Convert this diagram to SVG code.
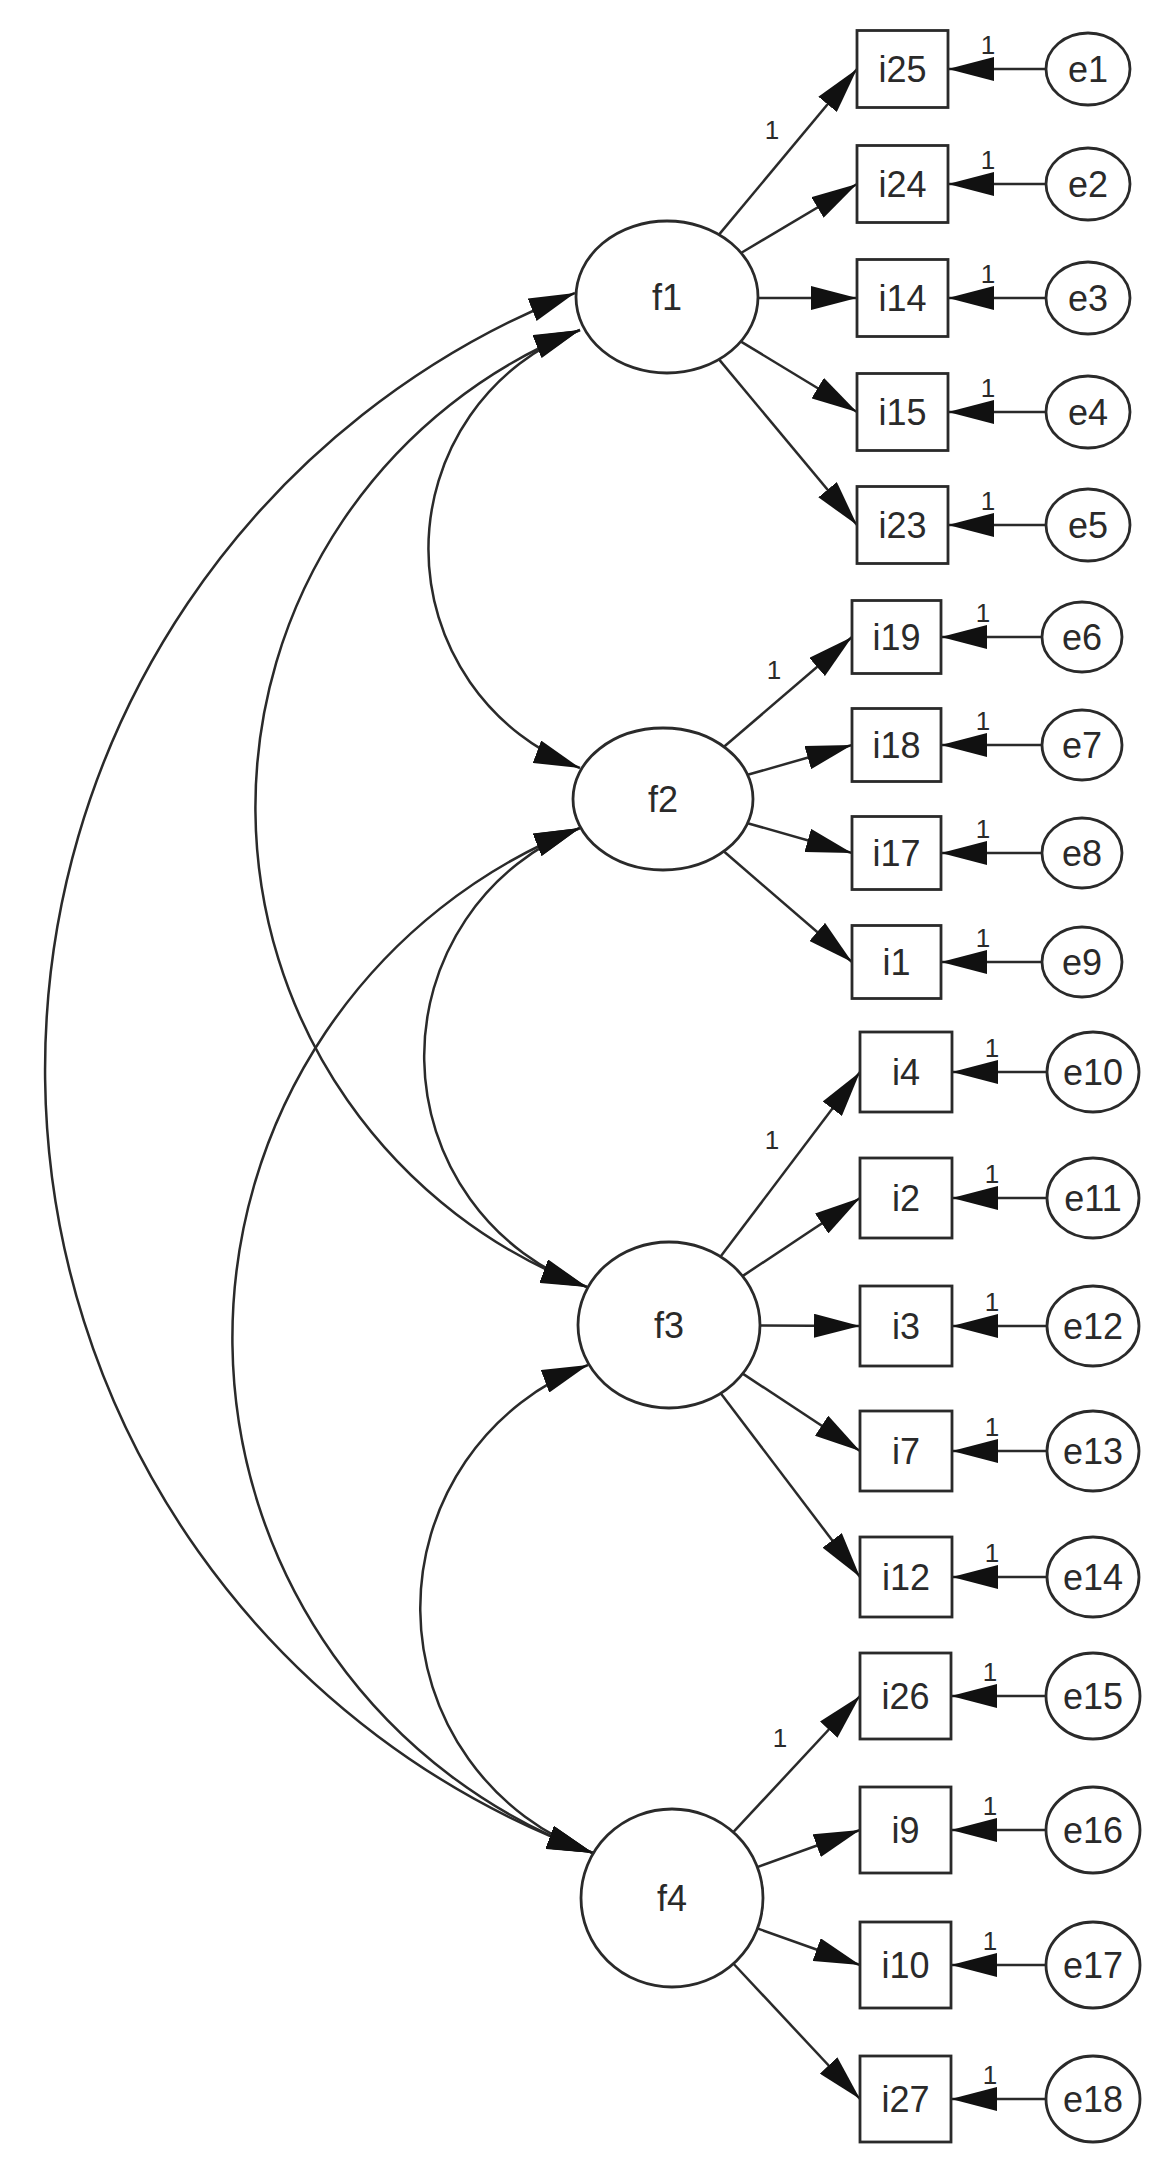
<svg xmlns="http://www.w3.org/2000/svg" width="1172" height="2177" viewBox="0 0 1172 2177">
<style>
.node{fill:#fff;stroke:#2a2a2a;stroke-width:2.8}
.lbl{font-family:'Liberation Sans',Arial,sans-serif;font-size:36px;fill:#2a2a2a;text-anchor:middle}
.one{font-family:'Liberation Sans',Arial,sans-serif;font-size:26px;fill:#2a2a2a;text-anchor:middle}
.edge{fill:none;stroke:#2a2a2a;stroke-width:2.5}
.ar{marker-end:url(#ah)}
.cov{fill:none;stroke:#2a2a2a;stroke-width:2.5;marker-start:url(#ah);marker-end:url(#ah)}
</style>
<defs>
<marker id="ah" markerUnits="userSpaceOnUse" markerWidth="46" markerHeight="24" refX="46" refY="12" orient="auto-start-reverse">
<path d="M0,0 L46,12 L0,24 z" fill="#111"/>
</marker>
</defs>
<rect width="1172" height="2177" fill="#fff"/>
<g id="connectors">
<path class="cov" d="M575,293 A834,834 0 0 0 593,1853"/>
<path class="cov" d="M580,330 A513,513 0 0 0 587,1287"/>
<path class="cov" d="M580,330 A234,234 0 0 0 580,768"/>
<path class="cov" d="M580,828 A245,245 0 0 0 587,1287"/>
<path class="cov" d="M580,828 A548,548 0 0 0 593,1853"/>
<path class="cov" d="M588,1365 A260,260 0 0 0 593,1853"/>
<line class="edge ar" x1="719" y1="234.6" x2="857" y2="69"/>
<line class="edge ar" x1="741" y1="253" x2="857" y2="184"/>
<line class="edge ar" x1="758" y1="298" x2="857" y2="298"/>
<line class="edge ar" x1="741" y1="341.6" x2="857" y2="412"/>
<line class="edge ar" x1="719" y1="359.4" x2="857" y2="525"/>
<line class="edge ar" x1="724" y1="746.8" x2="852" y2="637"/>
<line class="edge ar" x1="747.6" y1="774.8" x2="852" y2="745"/>
<line class="edge ar" x1="747.6" y1="823.2" x2="852" y2="853"/>
<line class="edge ar" x1="724" y1="851.5" x2="852" y2="962"/>
<line class="edge ar" x1="720.6" y1="1256.6" x2="860" y2="1072"/>
<line class="edge ar" x1="742.5" y1="1276.1" x2="860" y2="1198"/>
<line class="edge ar" x1="760" y1="1325.5" x2="860" y2="1326"/>
<line class="edge ar" x1="742.7" y1="1373.6" x2="860" y2="1451"/>
<line class="edge ar" x1="720.7" y1="1393.3" x2="860" y2="1577"/>
<line class="edge ar" x1="733.3" y1="1832.2" x2="860" y2="1696"/>
<line class="edge ar" x1="757.3" y1="1867.1" x2="860" y2="1830"/>
<line class="edge ar" x1="757.3" y1="1928.4" x2="860" y2="1965"/>
<line class="edge ar" x1="733.3" y1="1963.5" x2="860" y2="2099"/>
<line class="edge ar" x1="1046" y1="69" x2="948" y2="69"/>
<line class="edge ar" x1="1046" y1="184" x2="948" y2="184"/>
<line class="edge ar" x1="1046" y1="298" x2="948" y2="298"/>
<line class="edge ar" x1="1046" y1="412" x2="948" y2="412"/>
<line class="edge ar" x1="1046" y1="525" x2="948" y2="525"/>
<line class="edge ar" x1="1042" y1="637" x2="941" y2="637"/>
<line class="edge ar" x1="1042" y1="745" x2="941" y2="745"/>
<line class="edge ar" x1="1042" y1="853" x2="941" y2="853"/>
<line class="edge ar" x1="1042" y1="962" x2="941" y2="962"/>
<line class="edge ar" x1="1047" y1="1072" x2="952" y2="1072"/>
<line class="edge ar" x1="1047" y1="1198" x2="952" y2="1198"/>
<line class="edge ar" x1="1047" y1="1326" x2="952" y2="1326"/>
<line class="edge ar" x1="1047" y1="1451" x2="952" y2="1451"/>
<line class="edge ar" x1="1047" y1="1577" x2="952" y2="1577"/>
<line class="edge ar" x1="1046" y1="1696" x2="951" y2="1696"/>
<line class="edge ar" x1="1046" y1="1830" x2="951" y2="1830"/>
<line class="edge ar" x1="1046" y1="1965" x2="951" y2="1965"/>
<line class="edge ar" x1="1046" y1="2099" x2="951" y2="2099"/>
<text class="one" x="772" y="139">1</text>
<text class="one" x="774" y="679">1</text>
<text class="one" x="772" y="1149">1</text>
<text class="one" x="780" y="1747">1</text>
<text class="one" x="988" y="54">1</text>
<text class="one" x="988" y="169">1</text>
<text class="one" x="988" y="283">1</text>
<text class="one" x="988" y="397">1</text>
<text class="one" x="988" y="510">1</text>
<text class="one" x="983" y="622">1</text>
<text class="one" x="983" y="730">1</text>
<text class="one" x="983" y="838">1</text>
<text class="one" x="983" y="947">1</text>
<text class="one" x="992" y="1057">1</text>
<text class="one" x="992" y="1183">1</text>
<text class="one" x="992" y="1311">1</text>
<text class="one" x="992" y="1436">1</text>
<text class="one" x="992" y="1562">1</text>
<text class="one" x="990" y="1681">1</text>
<text class="one" x="990" y="1815">1</text>
<text class="one" x="990" y="1950">1</text>
<text class="one" x="990" y="2084">1</text>
</g>
<g id="f1"><ellipse class="node" cx="667" cy="297" rx="91" ry="76"/><text class="lbl" x="667" y="310">f1</text></g>
<g id="f2"><ellipse class="node" cx="663" cy="799" rx="90" ry="71"/><text class="lbl" x="663" y="812">f2</text></g>
<g id="f3"><ellipse class="node" cx="669" cy="1325" rx="91" ry="83"/><text class="lbl" x="669" y="1338">f3</text></g>
<g id="f4"><ellipse class="node" cx="672" cy="1898" rx="91" ry="89"/><text class="lbl" x="672" y="1911">f4</text></g>
<g id="i25"><rect class="node" x="857" y="30.5" width="91" height="77"/><text class="lbl" x="902.5" y="82">i25</text></g>
<g id="i24"><rect class="node" x="857" y="145.5" width="91" height="77"/><text class="lbl" x="902.5" y="197">i24</text></g>
<g id="i14"><rect class="node" x="857" y="259.5" width="91" height="77"/><text class="lbl" x="902.5" y="311">i14</text></g>
<g id="i15"><rect class="node" x="857" y="373.5" width="91" height="77"/><text class="lbl" x="902.5" y="425">i15</text></g>
<g id="i23"><rect class="node" x="857" y="486.5" width="91" height="77"/><text class="lbl" x="902.5" y="538">i23</text></g>
<g id="i19"><rect class="node" x="852" y="600.5" width="89" height="73"/><text class="lbl" x="896.5" y="650">i19</text></g>
<g id="i18"><rect class="node" x="852" y="708.5" width="89" height="73"/><text class="lbl" x="896.5" y="758">i18</text></g>
<g id="i17"><rect class="node" x="852" y="816.5" width="89" height="73"/><text class="lbl" x="896.5" y="866">i17</text></g>
<g id="i1"><rect class="node" x="852" y="925.5" width="89" height="73"/><text class="lbl" x="896.5" y="975">i1</text></g>
<g id="i4"><rect class="node" x="860" y="1032" width="92" height="80"/><text class="lbl" x="906" y="1085">i4</text></g>
<g id="i2"><rect class="node" x="860" y="1158" width="92" height="80"/><text class="lbl" x="906" y="1211">i2</text></g>
<g id="i3"><rect class="node" x="860" y="1286" width="92" height="80"/><text class="lbl" x="906" y="1339">i3</text></g>
<g id="i7"><rect class="node" x="860" y="1411" width="92" height="80"/><text class="lbl" x="906" y="1464">i7</text></g>
<g id="i12"><rect class="node" x="860" y="1537" width="92" height="80"/><text class="lbl" x="906" y="1590">i12</text></g>
<g id="i26"><rect class="node" x="860" y="1653" width="91" height="86"/><text class="lbl" x="905.5" y="1709">i26</text></g>
<g id="i9"><rect class="node" x="860" y="1787" width="91" height="86"/><text class="lbl" x="905.5" y="1843">i9</text></g>
<g id="i10"><rect class="node" x="860" y="1922" width="91" height="86"/><text class="lbl" x="905.5" y="1978">i10</text></g>
<g id="i27"><rect class="node" x="860" y="2056" width="91" height="86"/><text class="lbl" x="905.5" y="2112">i27</text></g>
<g id="e1"><ellipse class="node" cx="1088" cy="69" rx="42" ry="36"/><text class="lbl" x="1088" y="82">e1</text></g>
<g id="e2"><ellipse class="node" cx="1088" cy="184" rx="42" ry="36"/><text class="lbl" x="1088" y="197">e2</text></g>
<g id="e3"><ellipse class="node" cx="1088" cy="298" rx="42" ry="36"/><text class="lbl" x="1088" y="311">e3</text></g>
<g id="e4"><ellipse class="node" cx="1088" cy="412" rx="42" ry="36"/><text class="lbl" x="1088" y="425">e4</text></g>
<g id="e5"><ellipse class="node" cx="1088" cy="525" rx="42" ry="36"/><text class="lbl" x="1088" y="538">e5</text></g>
<g id="e6"><ellipse class="node" cx="1082" cy="637" rx="40" ry="35"/><text class="lbl" x="1082" y="650">e6</text></g>
<g id="e7"><ellipse class="node" cx="1082" cy="745" rx="40" ry="35"/><text class="lbl" x="1082" y="758">e7</text></g>
<g id="e8"><ellipse class="node" cx="1082" cy="853" rx="40" ry="35"/><text class="lbl" x="1082" y="866">e8</text></g>
<g id="e9"><ellipse class="node" cx="1082" cy="962" rx="40" ry="35"/><text class="lbl" x="1082" y="975">e9</text></g>
<g id="e10"><ellipse class="node" cx="1093" cy="1072" rx="46" ry="40"/><text class="lbl" x="1093" y="1085">e10</text></g>
<g id="e11"><ellipse class="node" cx="1093" cy="1198" rx="46" ry="40"/><text class="lbl" x="1093" y="1211">e11</text></g>
<g id="e12"><ellipse class="node" cx="1093" cy="1326" rx="46" ry="40"/><text class="lbl" x="1093" y="1339">e12</text></g>
<g id="e13"><ellipse class="node" cx="1093" cy="1451" rx="46" ry="40"/><text class="lbl" x="1093" y="1464">e13</text></g>
<g id="e14"><ellipse class="node" cx="1093" cy="1577" rx="46" ry="40"/><text class="lbl" x="1093" y="1590">e14</text></g>
<g id="e15"><ellipse class="node" cx="1093" cy="1696" rx="47" ry="43"/><text class="lbl" x="1093" y="1709">e15</text></g>
<g id="e16"><ellipse class="node" cx="1093" cy="1830" rx="47" ry="43"/><text class="lbl" x="1093" y="1843">e16</text></g>
<g id="e17"><ellipse class="node" cx="1093" cy="1965" rx="47" ry="43"/><text class="lbl" x="1093" y="1978">e17</text></g>
<g id="e18"><ellipse class="node" cx="1093" cy="2099" rx="47" ry="43"/><text class="lbl" x="1093" y="2112">e18</text></g>
</svg>
